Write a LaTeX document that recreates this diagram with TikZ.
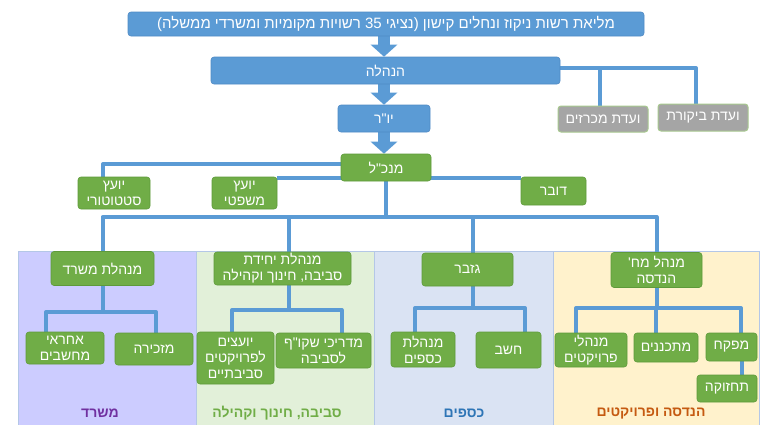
\documentclass[tikz,border=0pt]{standalone}
\usepackage{fontspec}
\setmainfont{Liberation Sans}
\newfontfamily\heb[Script=Hebrew]{Liberation Sans}
\TeXXeTstate=1
\usetikzlibrary{arrows.meta}
\definecolor{bblue}{HTML}{5B9BD5}
\definecolor{bblueedge}{HTML}{4F8AC4}
\definecolor{bgreen}{HTML}{70AD47}
\definecolor{bgreenedge}{HTML}{5E9A3A}
\definecolor{bgray}{HTML}{A5A5A5}
\definecolor{grayedge}{HTML}{A8C98F}
\definecolor{lblue}{HTML}{5B9BD5}
\definecolor{colA}{HTML}{CCCCFF}
\definecolor{colB}{HTML}{E2F0D9}
\definecolor{colC}{HTML}{DAE3F3}
\definecolor{colD}{HTML}{FFF2CC}
\definecolor{coledge}{HTML}{B4C7E7}
\definecolor{tA}{HTML}{7030A0}
\definecolor{tB}{HTML}{70AD47}
\definecolor{tC}{HTML}{2E75B6}
\definecolor{tD}{HTML}{C55A11}
\newcommand{\RL}[1]{\beginR #1\endR}
\pgfdeclarelayer{cols}
\pgfdeclarelayer{lines}
\pgfsetlayers{cols,lines,main}
\begin{document}
\begin{tikzpicture}[x=1pt,y=-1pt,
  font=\heb\fontsize{14}{16}\selectfont,
  box/.style={rounded corners=3pt, text=white, inner sep=1pt, align=center, line width=0.6pt},
  bluebox/.style={box, fill=bblue, draw=bblueedge},
  greenbox/.style={box, fill=bgreen, draw=bgreenedge},
  graybox/.style={box, fill=bgray, draw=grayedge, line width=1pt},
  conn/.style={draw=lblue, line width=4pt, line join=round},
  bigarrow/.style={draw=lblue, line width=12pt, -{Triangle[width=26pt,length=12pt]}},
  coltitle/.style={font=\heb\fontsize{14}{16}\selectfont\bfseries},
  sz/.style 2 args={minimum width=#1pt, minimum height=#2pt}]
\useasboundingbox (0,0) rectangle (761,424);

% nodes
\node[bluebox, sz={516}{24}, font=\heb\fontsize{15}{17}\selectfont] (top) at (386,24) {\RL{מליאת רשות ניקוז ונחלים קישון (נציגי \beginL 35\endL{} רשויות מקומיות ומשרדי ממשלה)}};
\node[bluebox, sz={349}{27}] (hanhala) at (385.5,70.5) {\RL{הנהלה}};
\node[bluebox, sz={92}{27}] (yor) at (384,118.5) {\RL{יו"ר}};
\node[graybox, sz={90}{26}] (michrazim) at (603,119) {\RL{ועדת מכרזים}};
\node[graybox, sz={90}{27}] (bikoret) at (703,117.5) {\RL{ועדת ביקורת}};
\node[greenbox, sz={90}{27}] (mankal) at (386,167.5) {\RL{מנכ"ל}};
\node[greenbox, sz={72}{32}] (statutory) at (114,193) {\RL{יועץ}\\\RL{סטטוטורי}};
\node[greenbox, sz={65}{32}] (mishpati) at (244.5,193) {\RL{יועץ}\\\RL{משפטי}};
\node[greenbox, sz={65}{28}] (dover) at (553.5,191) {\RL{דובר}};

\node[greenbox, sz={103}{34}] (mishradM) at (102.5,268.5) {\RL{מנהלת משרד}};
\node[greenbox, sz={137}{33}] (svivaM) at (282.5,268.5) {\RL{מנהלת יחידת}\\\RL{סביבה, חינוך וקהילה}};
\node[greenbox, sz={91}{33}] (gizbar) at (467.5,269.5) {\RL{גזבר}};
\node[greenbox, sz={91}{35}] (handasaM) at (656.5,270) {\RL{מנהל מח'}\\\RL{הנדסה}};

\node[greenbox, sz={78}{32}] (machshevim) at (65,348) {\RL{אחראי}\\\RL{מחשבים}};
\node[greenbox, sz={78}{32}] (mazkira) at (154,349) {\RL{מזכירה}};
\node[greenbox, sz={77}{52}] (yoatzim) at (235.5,358) {\RL{יועצים}\\\RL{לפרויקטים}\\\RL{סביבתיים}};
\node[greenbox, sz={95}{35}] (madrichei) at (323.5,350.5) {\RL{מדריכי שקו"ף}\\\RL{לסביבה}};
\node[greenbox, sz={64}{35}] (ksafimM) at (423,349.5) {\RL{מנהלת}\\\RL{כספים}};
\node[greenbox, sz={65}{36}] (chashav) at (508.5,350) {\RL{חשב}};
\node[greenbox, sz={72}{34}] (projects) at (591,350) {\RL{מנהלי}\\\RL{פרויקטים}};
\node[greenbox, sz={64}{29}] (metachnenim) at (666,347.5) {\RL{מתכננים}};
\node[greenbox, sz={51}{28}] (mefakeach) at (731.5,347) {\RL{מפקח}};
\node[greenbox, sz={60}{27}] (tachzuka) at (727,388.5) {\RL{תחזוקה}};

\node[coltitle, text=tA] (tMishrad) at (100,413) {\RL{משרד}};
\node[coltitle, text=tB] (tSviva) at (277,413) {\RL{סביבה, חינוך וקהילה}};
\node[coltitle, text=tC] (tKsafim) at (464,413) {\RL{כספים}};
\node[coltitle, text=tD] (tHandasa) at (651,413) {\RL{הנדסה ופרויקטים}};

% column backgrounds
\begin{pgfonlayer}{cols}
\draw[coledge, fill=colA] (18,251) rectangle (196,430);
\draw[coledge, fill=colB] (196,251) rectangle (374,430);
\draw[coledge, fill=colC] (374,251) rectangle (553,430);
\draw[coledge, fill=colD] (553,251) rectangle (759,430);
\end{pgfonlayer}

% connectors
\begin{pgfonlayer}{lines}
\coordinate (cy) at (0,68);
\coordinate (ly1) at (0,164);
\coordinate (ly2) at (0,178);
\coordinate (hl) at (0,217);
\coordinate (c1) at (0,312);
\coordinate (c2) at (0,310);
\coordinate (c3) at (0,308);

\draw[bigarrow] (top.south -| yor.north) -- (hanhala.north -| yor.north);
\draw[bigarrow] (hanhala.south -| yor.north) -- (yor.north);
\draw[bigarrow] (yor.south) -- (mankal.north -| yor.south);

\draw[conn] (hanhala.east |- cy) -| ([xshift=-7pt]bikoret.north);
\draw[conn] ([xshift=-3pt]michrazim.north) -- ([xshift=-3pt]michrazim.north |- cy);

\draw[conn] (mankal.west |- ly1) -| ([xshift=-11pt]statutory.north);
\draw[conn] (mishpati.east |- ly2) -- (dover.west |- ly2);

\draw[conn] (mankal.south) -- (mankal.south |- hl);
\draw[conn] (mishradM.north) -- (mishradM.north |- hl) -- (handasaM.north |- hl) -- (handasaM.north);
\draw[conn] ([xshift=6pt]svivaM.north) -- ([xshift=6pt]svivaM.north |- hl);
\draw[conn] ([xshift=5.5pt]gizbar.north) -- ([xshift=5.5pt]gizbar.north |- hl);

\draw[conn] (mishradM.south) -- (mishradM.south |- c1);
\draw[conn] ([xshift=-19pt]machshevim.north) -- ([xshift=-19pt]machshevim.north |- c1) -- ([xshift=2pt]mazkira.north |- c1) -- ([xshift=2pt]mazkira.north);

\draw[conn] ([xshift=6pt]svivaM.south) -- ([xshift=6pt]svivaM.south |- c2);
\draw[conn] ([xshift=-3.5pt]yoatzim.north) -- ([xshift=-3.5pt]yoatzim.north |- c2) -- ([xshift=18pt]madrichei.north |- c2) -- ([xshift=18pt]madrichei.north);

\draw[conn] ([xshift=5.5pt]gizbar.south) -- ([xshift=5.5pt]gizbar.south |- c3);
\draw[conn] ([xshift=-8pt]ksafimM.north) -- ([xshift=-8pt]ksafimM.north |- c3) -- ([xshift=16.5pt]chashav.north |- c3) -- ([xshift=16.5pt]chashav.north);

\draw[conn] (handasaM.south) -- (handasaM.south |- c3);
\draw[conn] ([xshift=-15pt]projects.north) -- ([xshift=-15pt]projects.north |- c3) -- ([xshift=9.5pt]mefakeach.north |- c3) -- ([xshift=9.5pt]mefakeach.north);
\draw[conn] ([xshift=-10pt]metachnenim.north) -- ([xshift=-10pt]metachnenim.north |- c3);
\draw[conn] ([xshift=10pt]mefakeach.south) -- ([xshift=10pt]mefakeach.south |- tachzuka.north);
\end{pgfonlayer}
\end{tikzpicture}
\end{document}
